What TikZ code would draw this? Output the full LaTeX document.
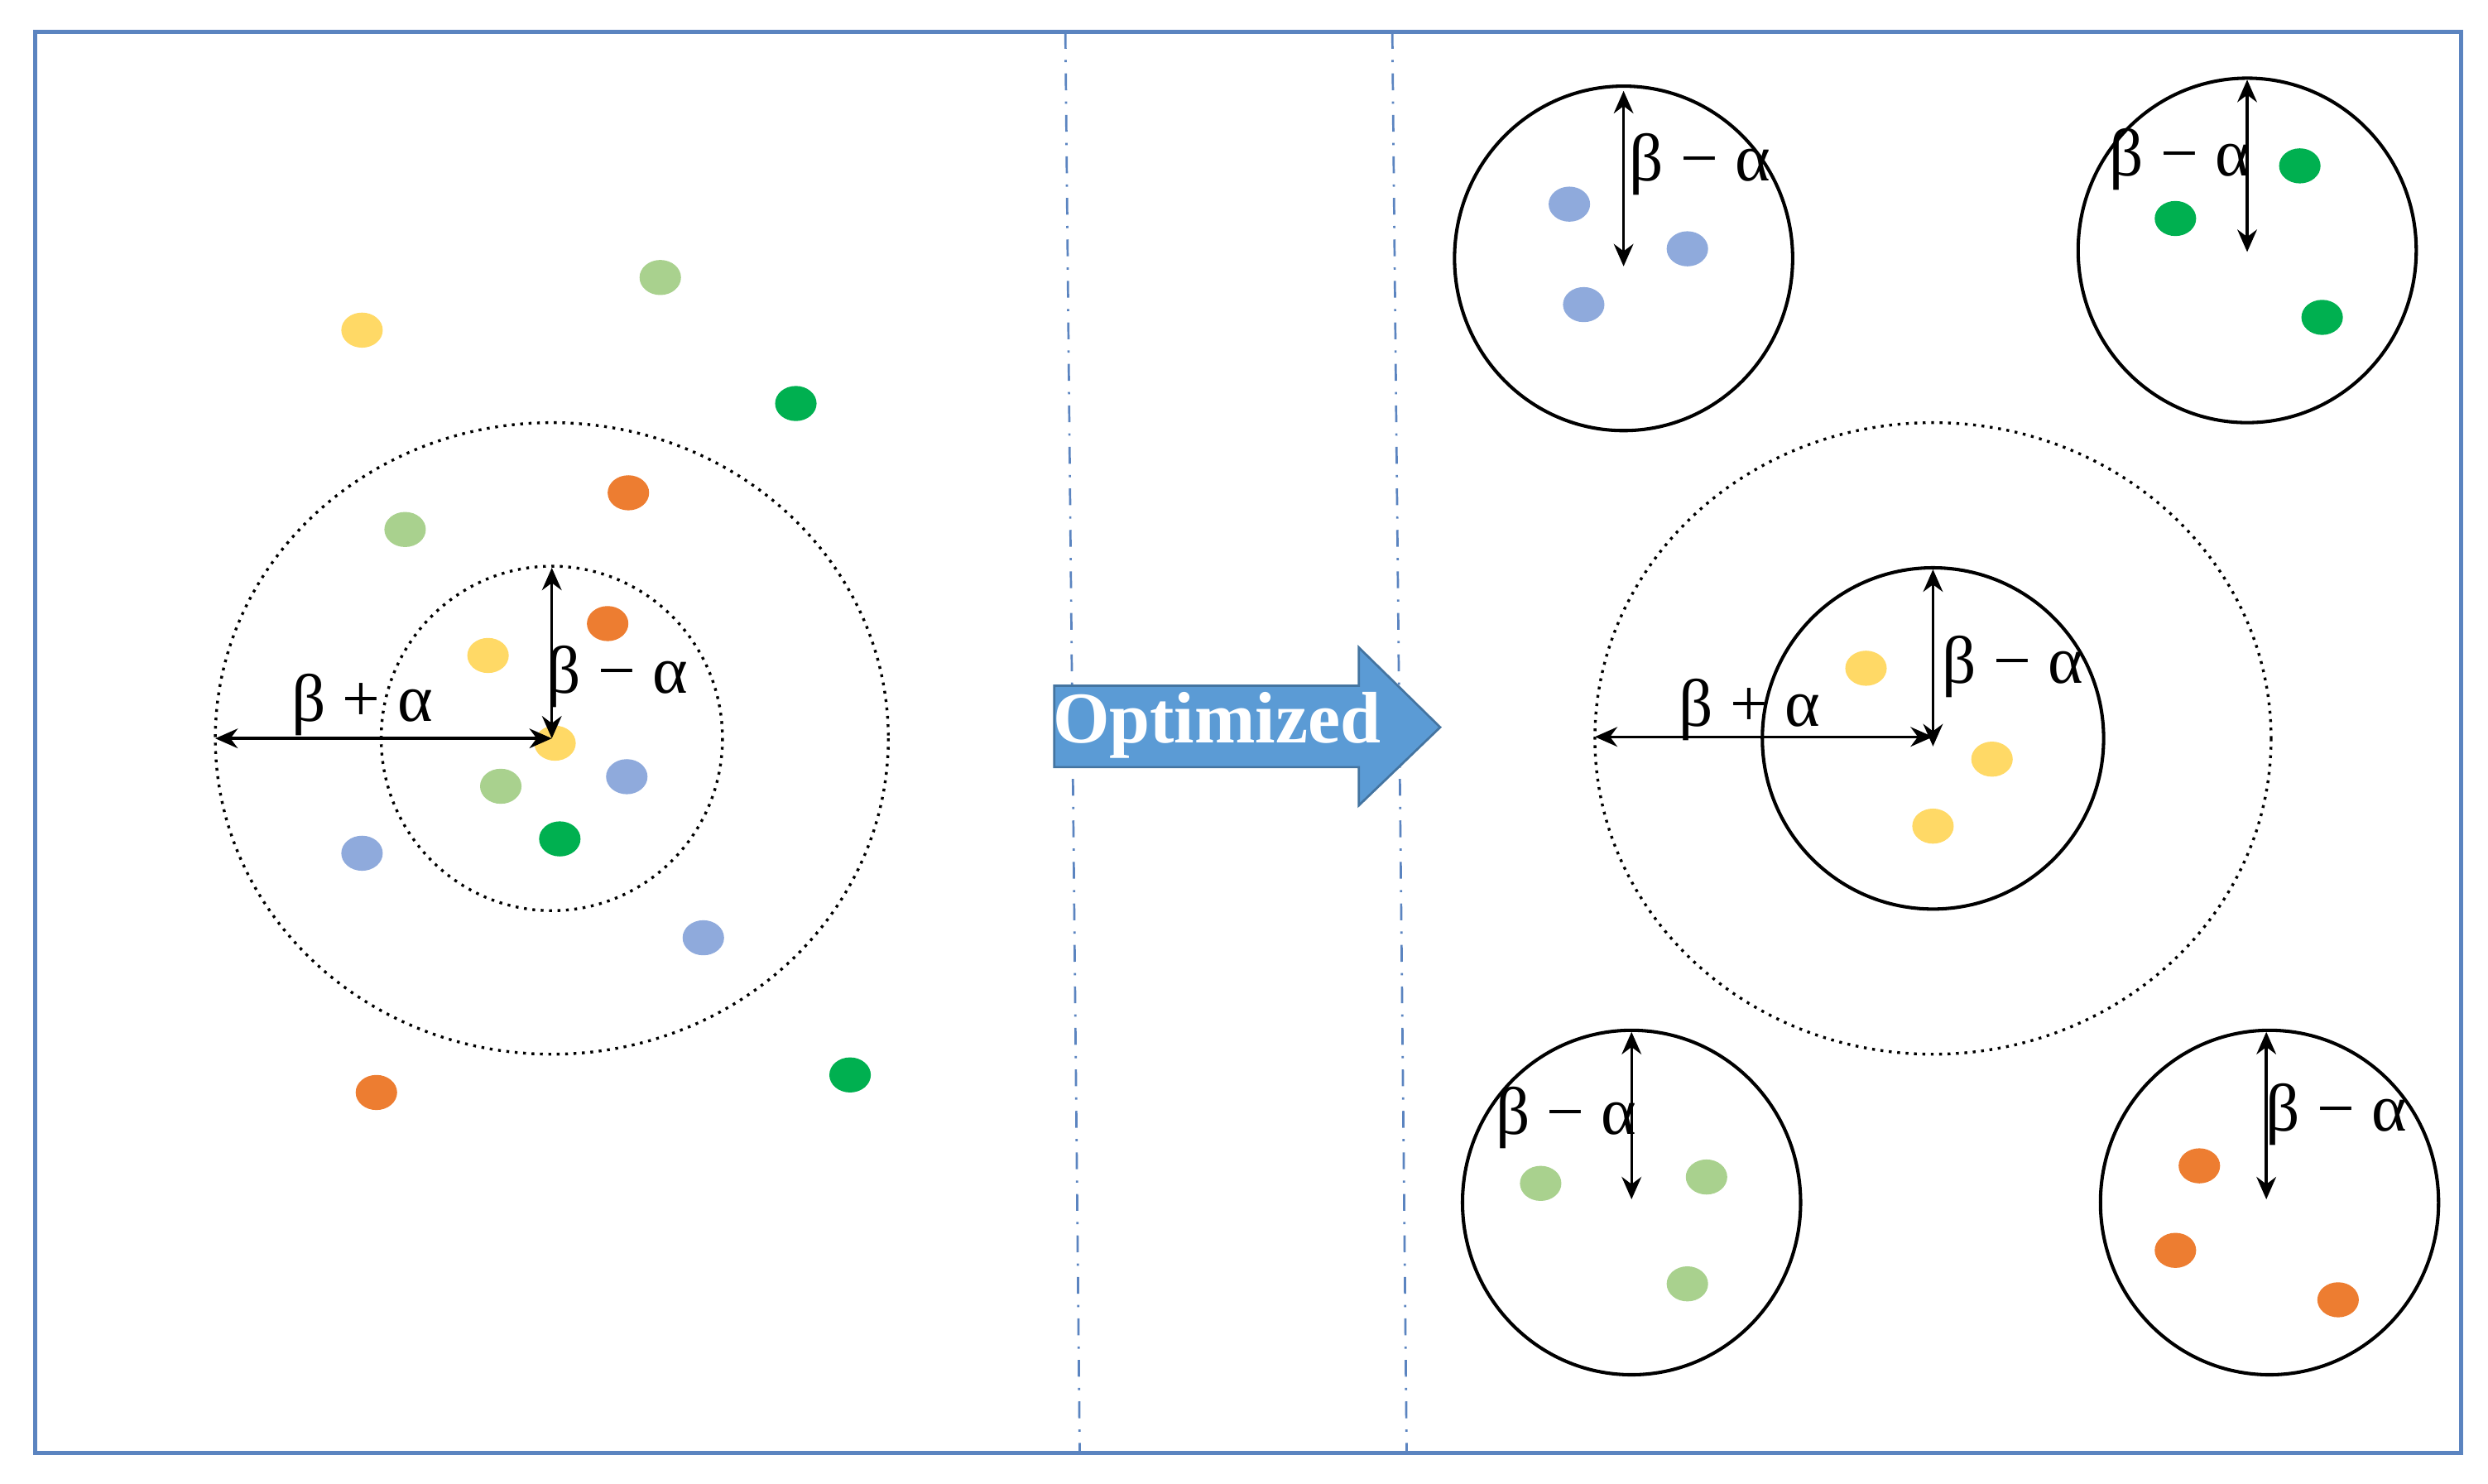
\documentclass[tikz,border=0pt]{standalone}
\usepackage{fontspec}
\setmainfont{Liberation Serif}
\usetikzlibrary{arrows.meta}
\definecolor{frame}{HTML}{5B84C0}
\definecolor{cy}{HTML}{FFD966}
\definecolor{clg}{HTML}{A9D18E}
\definecolor{cg}{HTML}{00B050}
\definecolor{co}{HTML}{ED7D31}
\definecolor{cb}{HTML}{8FAADC}
\definecolor{blk}{HTML}{5B9BD5}
\begin{document}
\begin{tikzpicture}[x=0.01cm,y=-0.01cm,
  dim/.style={{Stealth[length=4pt,width=3.5pt]}-{Stealth[length=4pt,width=3.5pt]},line width=0.5pt},
  lab/.style={font=\fontsize{12}{14}\selectfont,inner sep=1pt},
  dotc/.style={densely dotted,line width=0.5pt},
  solc/.style={line width=0.6pt},
  sep/.style={frame,dash dot,line width=0.4pt}]
\useasboundingbox (0,0) rectangle (1560,930);
\draw[frame,line width=0.7pt] (22,20) rectangle (1543,911);
\draw[sep] (668,20) -- (677,911);
\draw[sep] (873,20) -- (882,911);
% dots
\foreach \x/\y/\c in {227/207/cy,414/174/clg,499/253/cg,394/309/co,254/332/clg,381/391/co,306/411/cy,348/466/cy,314/493/clg,393/487/cb,351/526/cg,227/535/cb,441/588/cb,236/685/co,533/674/cg,
984/128/cb,1058/156/cb,993/191/cb,1442/104/cg,1364/137/cg,1456/199/cg,1170/419/cy,1249/476/cy,1212/518/cy,966/742/clg,1070/738/clg,1058/805/clg,1379/731/co,1364/784/co,1466/815/co}
  \fill[\c] (\x,\y) ellipse [x radius=13,y radius=11];
% left
\coordinate (lc) at (346,463);
\draw[dotc] (lc) ellipse [x radius=211,y radius=198];
\draw[dotc] (lc) ellipse [x radius=107,y radius=108];
\draw[dim] (135,463) -- (lc);
\draw[dim] (346,356) -- (lc);
\node[lab] at (227,442) {β + α};
\node[lab] at (387,424) {β − α};
% arrow block
\draw[fill=blk,draw=blk!75!black,line width=0.4pt] (661,430) -- (852,430) -- (852,406) -- (903,456) -- (852,505) -- (852,481) -- (661,481) -- cycle;
\node[text=white,font=\bfseries\fontsize{13}{15}\selectfont] (opt) at (763,455) {Optimized};
% right middle
\coordinate (rc) at (1212,463);
\draw[dotc] (rc) ellipse [x radius=212,y radius=198];
\draw[solc] (rc) circle [radius=107];
\draw[dim] (1000,462) -- (1212,462);
\draw[dim] (1212,357) -- (1212,468);
\node[lab] at (1097,445) {β + α};
\node[lab] at (1262,418) {β − α};
% small circles
\foreach \cx/\cy/\ax/\ay/\by/\lx/\ly in {1018/162/1018/57/167/1066/103, 1409/157/1409/50/158/1367/100, 1023/754/1023/647/752/982/701, 1423/754/1421/647/752/1465/699}{
  \draw[solc] (\cx,\cy) ellipse [x radius=106,y radius=108];
  \draw[dim] (\ax,\ay) -- (\ax,\by);
  \node[lab] at (\lx,\ly) {β − α};
}
\end{tikzpicture}
\end{document}
